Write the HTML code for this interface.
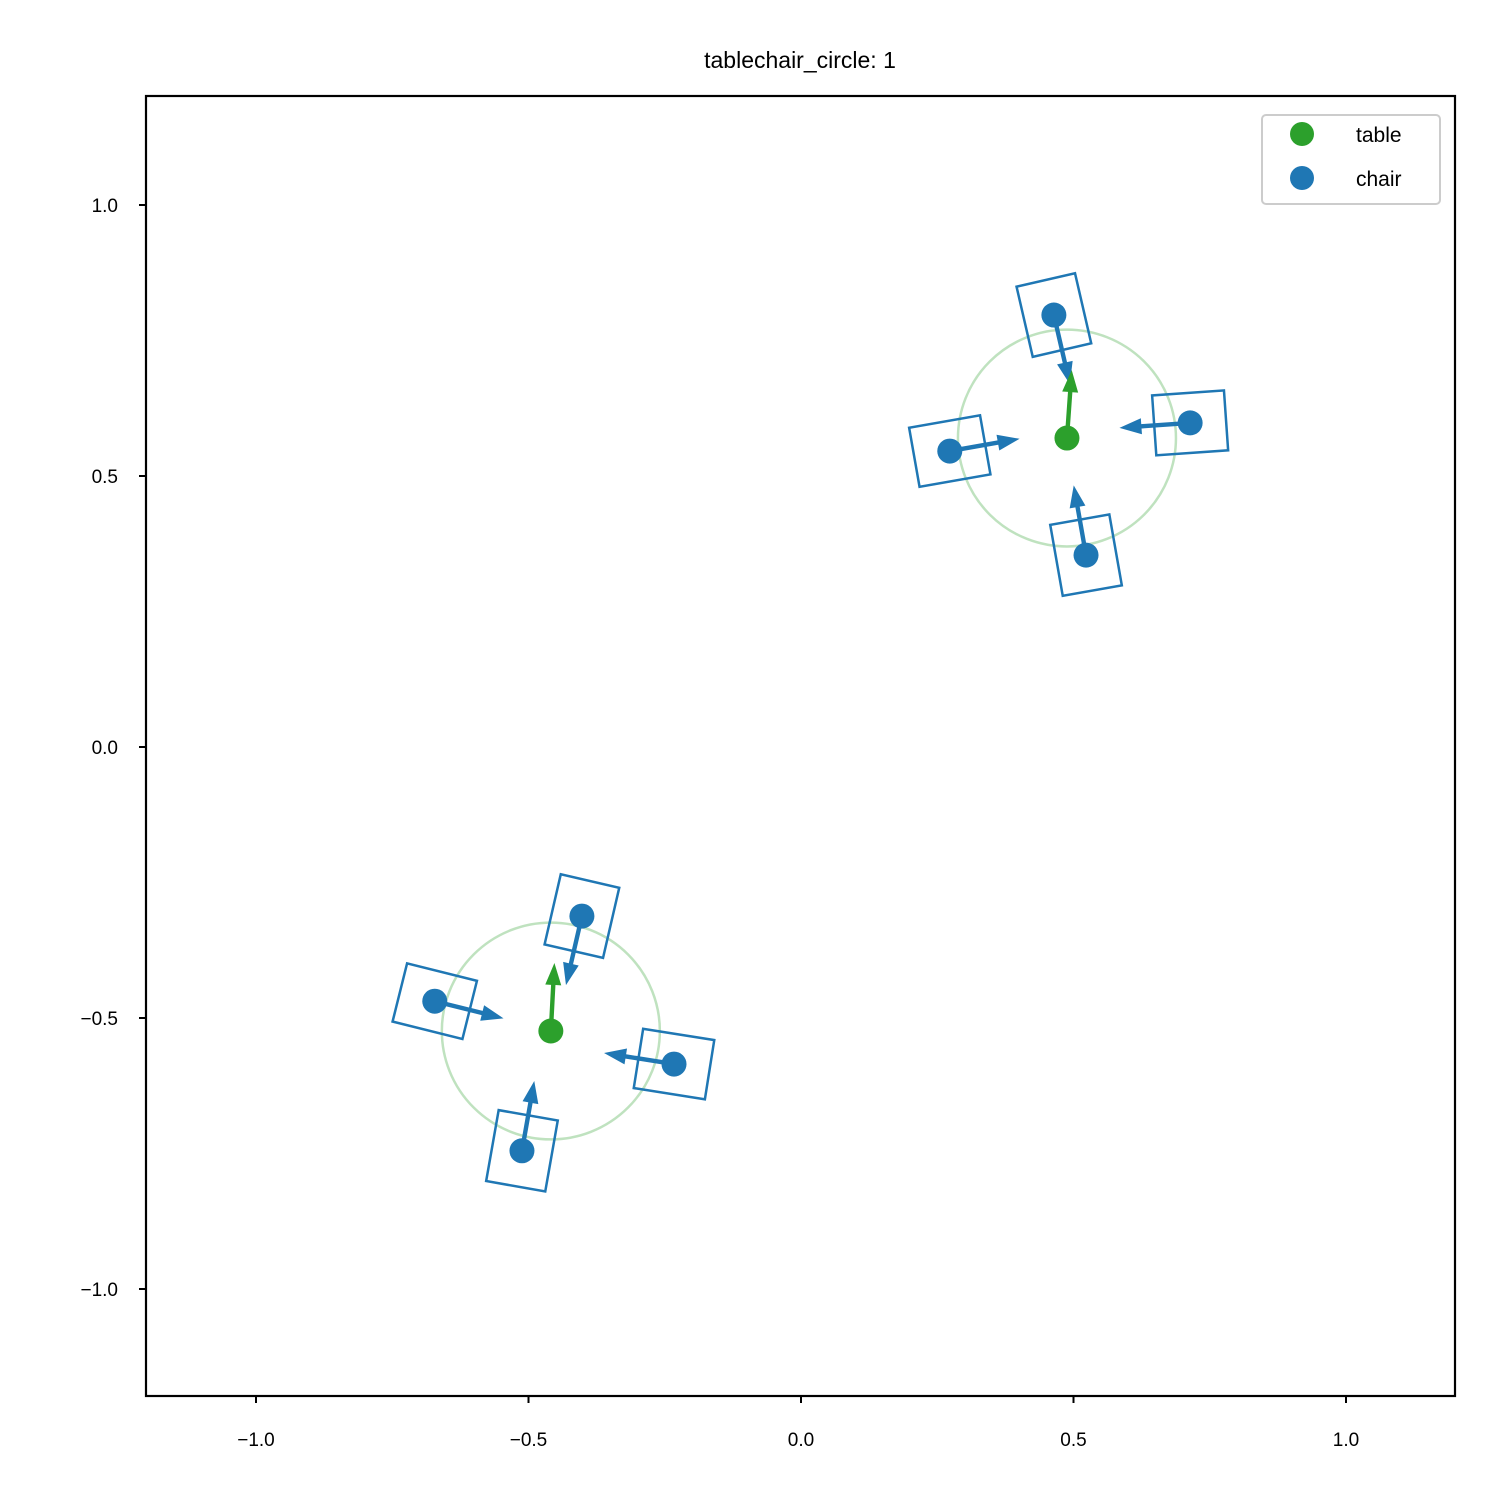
<!DOCTYPE html>
<html><head><meta charset="utf-8"><style>
body{margin:0;background:#fff}
svg{display:block;font-family:"Liberation Sans","DejaVu Sans",sans-serif}
</style></head><body>
<svg id="chart" width="1500" height="1500" viewBox="0 0 1500 1500">
<rect width="1500" height="1500" fill="#fff"/>
<text x="800" y="68" font-size="23" text-anchor="middle">tablechair_circle: 1</text>
<g id="ticks"></g>
<g id="marks"></g>
<rect x="146" y="96" width="1309" height="1300" fill="none" stroke="#000" stroke-width="2.2"/>
<g>
<rect x="1262" y="115" width="178" height="89" rx="4" fill="#fff" stroke="#ccc" stroke-width="2"/>
<g><circle cx="1302" cy="134" r="12" fill="#2ca02c"/><text x="1356" y="142" font-size="21">table</text></g>
<g><circle cx="1302" cy="178" r="12" fill="#1f77b4"/><text x="1356" y="186" font-size="21">chair</text></g>
</g>
</svg>
<script>
const xTicks=[-1.0,-0.5,0.0,0.5,1.0];
const yTicks=[1.0,0.5,0.0,-0.5,-1.0];
const tickLabels=["\u22121.0","\u22120.5","0.0","0.5","1.0"];
const tableX=[0.488,-0.459];
const tableY=[0.570,-0.524];
const tableAngle=[86,87];
const tableRadius=[0.2,0.2];
const chairX=[0.464,0.714,0.273,0.523,-0.402,-0.672,-0.233,-0.512];
const chairY=[0.797,0.598,0.546,0.354,-0.312,-0.469,-0.585,-0.745];
const chairAngle=[-77,184,10,100,-103,-14,171,80];

const NS="http://www.w3.org/2000/svg";
const sx=v=>801+v*545, sy=v=>747-v*542;
function mk(tag,attrs,parent){const e=document.createElementNS(NS,tag);for(const k in attrs)e.setAttribute(k,attrs[k]);parent.appendChild(e);return e;}
const tg=document.getElementById('ticks'), mg=document.getElementById('marks');
xTicks.forEach((v,i)=>{
 const l=mk('line',{x1:sx(v),x2:sx(v),y1:1396,y2:1403,stroke:'#000','stroke-width':2},tg);
 
 
 const t=mk('text',{x:sx(v),y:1446,'font-size':19,'text-anchor':'middle'},tg);t.textContent=tickLabels[i];
 
 
});
yTicks.forEach((v,i)=>{
 const l=mk('line',{x1:139,x2:146,y1:sy(v),y2:sy(v),stroke:'#000','stroke-width':2},tg);
 
 
 const t=mk('text',{x:118,y:sy(v)+7,'font-size':19,'text-anchor':'end'},tg);t.textContent=tickLabels[4-i];
 
 
});
function arrow(x,y,ang,len,color,name){
 const a=ang*Math.PI/180, ux=Math.cos(a), uy=-Math.sin(a);
 const px=-uy, py=ux;
 const x0=sx(x), y0=sy(y), L=len*545;
 const tx=x0+ux*L, ty=y0+uy*L, hl=22, hw=8, sw=2.2;
 const bx=tx-ux*hl, by=ty-uy*hl;
 const pts=[[x0+px*sw,y0+py*sw],[bx+px*sw,by+py*sw],[bx+px*hw,by+py*hw],[tx,ty],[bx-px*hw,by-py*hw],[bx-px*sw,by-py*sw],[x0-px*sw,y0-py*sw]];
 const p=mk('polygon',{points:pts.map(q=>q.join(',')).join(' '),fill:color},mg);
 
 
}
tableX.forEach((x,i)=>{
 const c=mk('ellipse',{cx:sx(x),cy:sy(tableY[i]),rx:tableRadius[i]*545,ry:tableRadius[i]*542,fill:'none',stroke:'#2ca02c','stroke-opacity':0.3,'stroke-width':2.5},mg);
 
 
});
chairX.forEach((x,i)=>{
 const g=mk('rect',{x:-36,y:-30,width:72,height:60,fill:'none',stroke:'#1f77b4','stroke-width':2.5,transform:`translate(${sx(x)},${sy(chairY[i])}) rotate(${-chairAngle[i]})`},mg);
 
 
 arrow(x,chairY[i],chairAngle[i],0.13,'#1f77b4','chair-arrow');
 const d=mk('circle',{cx:sx(x),cy:sy(chairY[i]),r:12.5,fill:'#1f77b4'},mg);
 
 
});
tableX.forEach((x,i)=>{
 arrow(x,tableY[i],tableAngle[i],0.125,'#2ca02c','table-arrow');
 const d=mk('circle',{cx:sx(x),cy:sy(tableY[i]),r:12.5,fill:'#2ca02c'},mg);
 
 
});
</script>
</body></html>
